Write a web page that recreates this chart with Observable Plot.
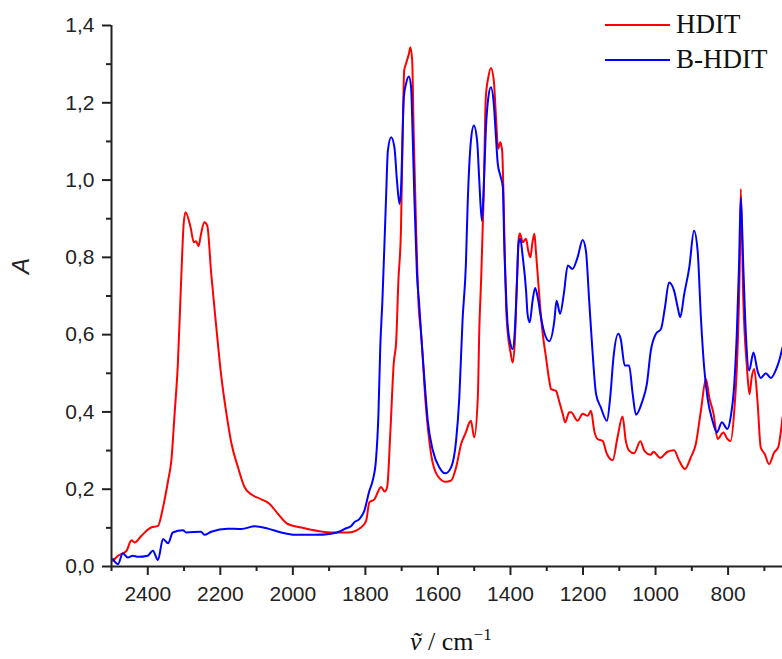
<!DOCTYPE html>
<html>
<head>
<meta charset="utf-8">
<script src="https://cdn.jsdelivr.net/npm/d3@7"></script>
<script src="https://cdn.jsdelivr.net/npm/@observablehq/plot@0.6"></script>
<style>
  html, body { margin: 0; padding: 0; background: #fff; }
  #wrap { position: relative; width: 782px; height: 659px; overflow: hidden; }
  #legend { position: absolute; left: 605px; top: 7px; font-family: "Liberation Serif", "Times New Roman", serif; font-size: 27px; color: #111; }
  .row { display: flex; align-items: center; height: 35px; }
  .sw { width: 65px; height: 0; border-top: 2px solid; margin-right: 6px; }
  .lab { line-height: 1; }
  #xlabel { position: absolute; left: 410px; top: 629px; font-family: "Liberation Serif", "Times New Roman", serif; font-size: 26px; line-height: 1; color: #111; white-space: nowrap; }
  #xlabel sup { font-size: 17px; vertical-align: 10px; line-height: 0; }
</style>
</head>
<body>
<div id="wrap"></div>
<script>
// Series names and colours
const seriesNames = ["HDIT", "B-HDIT"];
const seriesColors = ["#ff0000", "#0000ff"];

// HDIT (red): wavenumber (cm-1) and absorbance
const wnHDIT = [2496,2482,2459,2445,2436,2418,2404,2391,2372,2358,2344,2335,2326,2317,2308,2301,2296,2282,2273,2267,2260,2253,2244,2236,2225,2211,2198,2183,2169,2151,2133,2115,2087,2064,2041,2014,1977,1931,1885,1848,1812,1798,1789,1775,1764,1757,1747,1740,1731,1722,1715,1709,1702,1697,1693,1688,1680,1676,1671,1667,1660,1653,1647,1633,1619,1601,1578,1564,1550,1536,1523,1513,1509,1500,1490,1486,1481,1474,1468,1461,1454,1446,1440,1434,1428,1423,1417,1412,1408,1399,1394,1388,1382,1377,1374,1366,1357,1351,1345,1340,1334,1330,1323,1318,1311,1302,1293,1288,1275,1265,1256,1249,1238,1233,1215,1201,1187,1178,1169,1160,1146,1134,1118,1105,1091,1082,1073,1059,1042,1031,1013,1006,987,967,949,935,919,903,889,875,861,852,840,829,813,802,793,783,774,768,765,758,748,741,735,728,719,710,699,687,673,662,650];
const aHDIT = [0.015,0.028,0.040,0.068,0.062,0.079,0.092,0.101,0.105,0.153,0.222,0.274,0.395,0.525,0.740,0.887,0.917,0.878,0.839,0.842,0.829,0.861,0.891,0.882,0.757,0.619,0.498,0.395,0.317,0.256,0.205,0.187,0.174,0.162,0.136,0.110,0.101,0.092,0.088,0.088,0.101,0.118,0.166,0.174,0.196,0.206,0.194,0.205,0.351,0.524,0.584,0.740,0.869,1.128,1.284,1.301,1.327,1.344,1.310,1.128,0.869,0.671,0.610,0.412,0.291,0.235,0.219,0.222,0.256,0.317,0.347,0.373,0.377,0.334,0.438,0.610,0.740,0.955,1.214,1.266,1.290,1.258,1.163,1.081,1.098,1.076,0.869,0.671,0.610,0.550,0.528,0.584,0.740,0.852,0.862,0.839,0.848,0.817,0.800,0.835,0.861,0.817,0.731,0.671,0.602,0.541,0.481,0.459,0.455,0.425,0.395,0.373,0.399,0.399,0.377,0.395,0.390,0.403,0.351,0.330,0.325,0.291,0.275,0.334,0.388,0.325,0.300,0.293,0.324,0.300,0.289,0.297,0.281,0.297,0.301,0.274,0.252,0.282,0.317,0.403,0.485,0.438,0.395,0.330,0.347,0.330,0.325,0.403,0.559,0.774,0.977,0.688,0.515,0.446,0.489,0.511,0.429,0.308,0.291,0.265,0.295,0.308,0.386];

// B-HDIT (blue): wavenumber (cm-1) and absorbance
const wnBHDIT = [2496,2482,2469,2455,2441,2427,2400,2386,2372,2358,2344,2331,2303,2294,2253,2244,2225,2180,2142,2105,2069,2032,1995,1940,1894,1867,1858,1839,1831,1816,1803,1789,1780,1771,1764,1759,1753,1743,1738,1729,1720,1713,1706,1702,1694,1688,1680,1674,1670,1665,1658,1651,1647,1637,1628,1614,1596,1580,1564,1550,1541,1532,1523,1518,1509,1501,1492,1486,1479,1474,1468,1461,1454,1446,1440,1435,1428,1421,1417,1412,1408,1400,1394,1388,1382,1378,1373,1366,1357,1353,1347,1339,1332,1325,1316,1307,1293,1279,1273,1263,1253,1242,1229,1215,1201,1192,1183,1174,1164,1151,1134,1125,1116,1103,1096,1085,1073,1063,1054,1036,1024,1013,999,985,974,963,949,939,932,921,907,894,884,875,866,857,843,831,817,802,793,783,776,770,765,758,751,742,730,719,710,696,682,669,659,650];
const aBHDIT = [0.019,0.006,0.034,0.023,0.028,0.025,0.028,0.041,0.017,0.071,0.060,0.088,0.094,0.088,0.090,0.082,0.090,0.098,0.097,0.104,0.098,0.088,0.082,0.082,0.085,0.092,0.097,0.105,0.114,0.123,0.144,0.196,0.222,0.274,0.395,0.567,0.690,0.955,1.076,1.111,1.085,0.999,0.938,0.973,1.214,1.249,1.268,1.240,1.128,0.955,0.760,0.671,0.610,0.481,0.377,0.300,0.256,0.241,0.256,0.325,0.438,0.640,0.780,0.938,1.102,1.141,1.102,0.999,0.895,0.973,1.128,1.214,1.240,1.197,1.111,1.042,1.012,0.981,0.826,0.700,0.628,0.576,0.563,0.610,0.740,0.835,0.848,0.800,0.714,0.654,0.632,0.688,0.721,0.697,0.645,0.606,0.583,0.636,0.688,0.654,0.705,0.779,0.770,0.800,0.845,0.817,0.688,0.559,0.446,0.412,0.377,0.438,0.541,0.602,0.589,0.520,0.520,0.446,0.393,0.429,0.472,0.559,0.602,0.615,0.671,0.735,0.714,0.671,0.645,0.705,0.774,0.869,0.817,0.645,0.515,0.438,0.377,0.347,0.373,0.356,0.386,0.472,0.602,0.774,0.955,0.774,0.602,0.507,0.554,0.507,0.488,0.500,0.488,0.507,0.533,0.567];

// Axis ticks
const xTickValues = [2400, 2200, 2000, 1800, 1600, 1400, 1200, 1000, 800];
const xMinorTicks = [2500, 2300, 2100, 1900, 1700, 1500, 1300, 1100, 900, 700];
const yTickValues = [0, 0.2, 0.4, 0.6, 0.8, 1.0, 1.2, 1.4];
const yMinorTicks = [0.1, 0.3, 0.5, 0.7, 0.9, 1.1, 1.3];
const xDomain = [2500, 650];
const yDomain = [0, 1.4];

const hdit = wnHDIT.map((x, i) => ({x, y: aHDIT[i]}));
const bhdit = wnBHDIT.map((x, i) => ({x, y: aBHDIT[i]}));

const axisColor = "#222";
const chart = Plot.plot({
  width: 782,
  height: 659,
  marginLeft: 111,
  marginRight: 0,
  marginTop: 25,
  marginBottom: 93,
  style: {fontFamily: "'Liberation Sans', Arial, sans-serif", fontSize: "21px", color: axisColor, background: "#fff", overflow: "visible"},
  x: {domain: xDomain},
  y: {domain: yDomain},
  marks: [
    Plot.axisX({ticks: xTickValues, tickSize: 9, tickPadding: 11, strokeWidth: 2, tickFormat: d => String(d), label: null, fontSize: 21}),
    Plot.axisX({ticks: xMinorTicks, tickSize: 5, strokeWidth: 2, tickFormat: () => "", label: null}),
    Plot.axisY({ticks: yTickValues, tickSize: 9, tickPadding: 8, strokeWidth: 2, tickFormat: d => d.toFixed(1).replace(".", ","), label: null, fontSize: 21}),
    Plot.axisY({ticks: yMinorTicks, tickSize: 5, strokeWidth: 2, tickFormat: () => "", label: null}),
    Plot.line(hdit, {x: "x", y: "y", stroke: seriesColors[0], strokeWidth: 2, curve: "monotone-x"}),
    Plot.line(bhdit, {x: "x", y: "y", stroke: seriesColors[1], strokeWidth: 2, curve: "monotone-x"}),
    Plot.ruleY([yDomain[0]], {stroke: axisColor, strokeWidth: 2}),
    Plot.ruleX([xDomain[0]], {stroke: axisColor, strokeWidth: 2}),
    Plot.text(["A"], {frameAnchor: "left", rotate: -90, dx: -90, dy: -22, fontStyle: "italic", fontSize: 24, lineAnchor: "middle", fill: axisColor})
  ]
});
const wrap = document.getElementById("wrap");
wrap.appendChild(chart);

// Legend
const legend = document.createElement("div");
legend.id = "legend";
seriesNames.forEach((name, i) => {
  const row = document.createElement("div");
  row.className = "row";
  const sw = document.createElement("span");
  sw.className = "sw";
  sw.style.borderTopColor = seriesColors[i];
  const lab = document.createElement("span");
  lab.className = "lab";
  lab.textContent = name;
  row.appendChild(sw); row.appendChild(lab);
  legend.appendChild(row);
});
wrap.appendChild(legend);

// X axis label
const xl = document.createElement("div");
xl.id = "xlabel";
xl.innerHTML = "<i>\u1E7D</i> / cm<sup>\u22121</sup>";
wrap.appendChild(xl);
</script>
</body>
</html>
